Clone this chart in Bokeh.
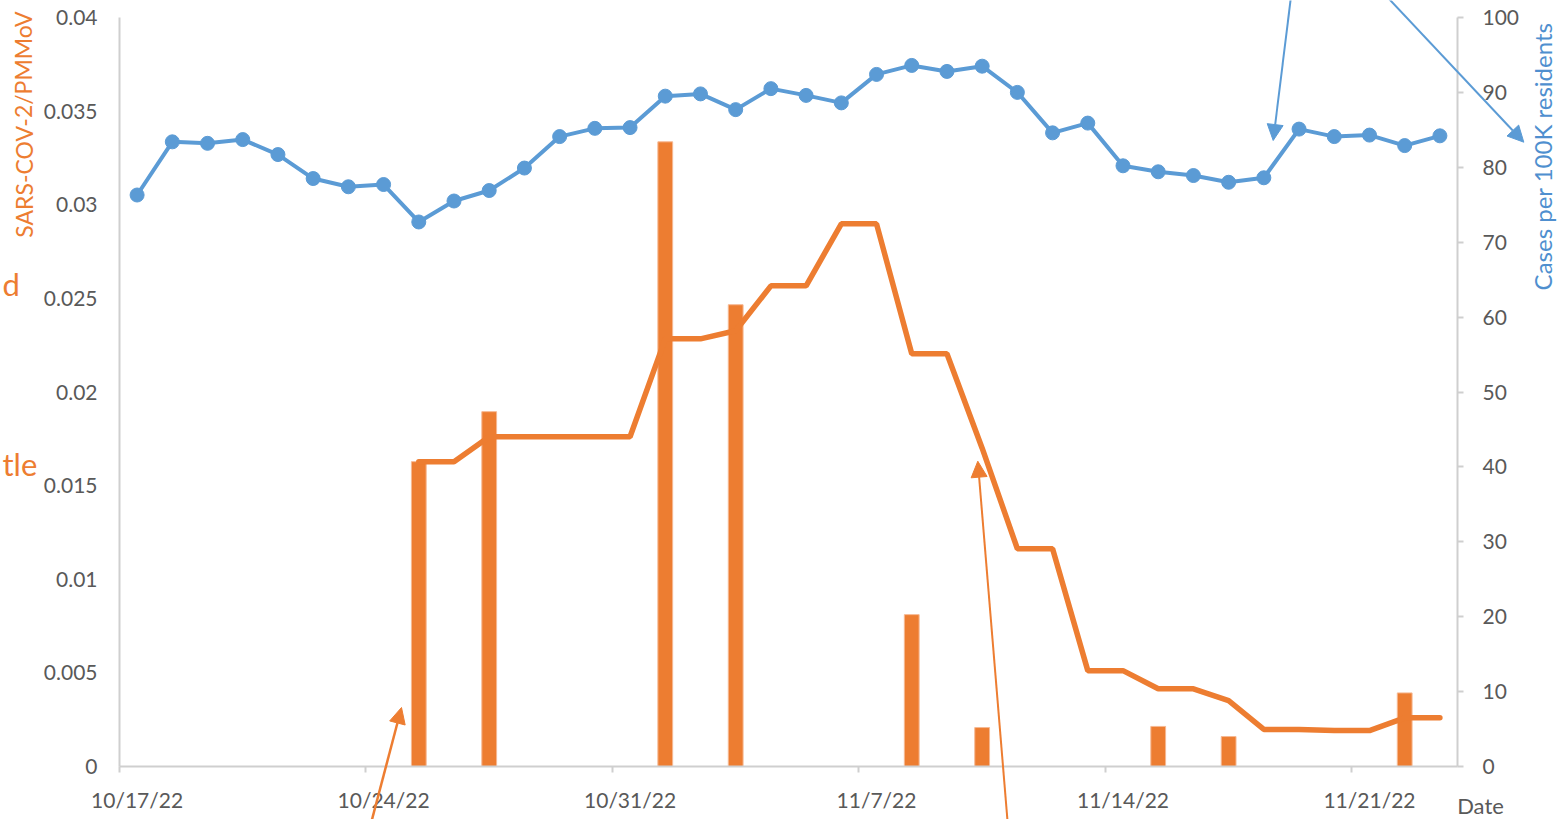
import pandas as pd
from bokeh.plotting import figure
from bokeh.models import (Range1d, LinearAxis, FixedTicker, NumeralTickFormatter,
                          Label, Arrow, NormalHead, ColumnDataSource)
from bokeh.embed import file_html
from bokeh.resources import INLINE

# ---------------- data ----------------
start_date = pd.Timestamp("2022-10-17")
case_dates = pd.date_range("2022-10-17", "2022-11-23", freq="D")
case_rate = [76.3, 83.4, 83.2, 83.7, 81.7, 78.5, 77.4, 77.7, 72.7, 75.5,
             76.9, 79.9, 84.1, 85.2, 85.3, 89.5, 89.8, 87.7, 90.5, 89.6,
             88.6, 92.4, 93.6, 92.8, 93.5, 90.0, 84.6, 85.9, 80.2, 79.4,
             78.9, 78.0, 78.6, 85.1, 84.1, 84.3, 82.9, 84.2]

ratio_dates = pd.date_range("2022-10-25", "2022-11-23", freq="D")
ratio_avg = [0.01628, 0.01628, 0.01761, 0.01761, 0.01761, 0.01761, 0.01761,
             0.02284, 0.02284, 0.02327, 0.02567, 0.02567, 0.02898, 0.02898,
             0.02204, 0.02204, 0.01700, 0.01163, 0.01163, 0.00512, 0.00512,
             0.00415, 0.00415, 0.00352, 0.00198, 0.00198, 0.00192, 0.00192,
             0.00260, 0.00260]

sample_dates = ["2022-10-25", "2022-10-27", "2022-11-01", "2022-11-03",
                "2022-11-08", "2022-11-10", "2022-11-15", "2022-11-17",
                "2022-11-22"]
sample_ratio = [0.01628, 0.01895, 0.03336, 0.02466, 0.00811, 0.00208,
                0.00214, 0.00160, 0.00393]

tick_dates = ["2022-10-17", "2022-10-24", "2022-10-31", "2022-11-07",
              "2022-11-14", "2022-11-21"]
tick_labels = ["10/17/22", "10/24/22", "10/31/22", "11/7/22", "11/14/22", "11/21/22"]

left_ticks = [0, 0.005, 0.01, 0.015, 0.02, 0.025, 0.03, 0.035, 0.04]
right_ticks = [0, 10, 20, 30, 40, 50, 60, 70, 80, 90, 100]


def day_pos(d):
    return (pd.Timestamp(d) - start_date).days + 0.5


ORANGE = "#ED7D31"
BLUE = "#5B9BD5"
GREY_TXT = "#595959"
AXIS_GREY = "#CFCFCF"
FONT = "Lato"

W, H = 1562, 819
# plot area (axes box) in canvas pixels
PL, PR, PT, PB = 119, 1457, 17, 766
N_DAYS = 38
Y_MAX = 0.04
C_MAX = 100

px_per_day = (PR - PL) / N_DAYS
px_per_y = (PB - PT) / Y_MAX
x_lo, x_hi = -PL / px_per_day, (W - PL) / px_per_day
y_lo, y_hi = -(H - PB) / px_per_y, Y_MAX + PT / px_per_y
c_scale = C_MAX / Y_MAX

p = figure(width=W, height=H, output_backend="svg", toolbar_location=None,
           x_range=Range1d(x_lo, x_hi), y_range=Range1d(y_lo, y_hi),
           min_border=0)
p.title.visible = False
p.extra_y_ranges = {"cases": Range1d(y_lo * c_scale, y_hi * c_scale)}
p.outline_line_color = None
p.xgrid.visible = False
p.ygrid.visible = False
p.background_fill_color = "white"
p.border_fill_color = "white"

# ---- x axis: tick marks at week starts ----
xa = p.xaxis[0]
xa.fixed_location = 0
xa.bounds = (0, N_DAYS)
xa.ticker = FixedTicker(ticks=[day_pos(d) - 0.5 for d in tick_dates])
xa.major_label_text_font_size = "1px"
xa.major_label_text_color = None
xa.major_tick_out = 6
xa.major_tick_in = 0
xa.minor_tick_line_color = None
xa.major_tick_line_color = AXIS_GREY
xa.axis_line_color = AXIS_GREY
xa.axis_line_width = 2
xa.major_tick_line_width = 2

# ---- x axis labels (centred on the day) ----
lab_pos = [day_pos(d) for d in tick_dates]
xl = LinearAxis(ticker=FixedTicker(ticks=lab_pos), fixed_location=0,
                major_label_overrides={pos: t for pos, t in zip(lab_pos, tick_labels)},
                axis_line_color=None, major_tick_line_color=None,
                major_tick_out=0, major_tick_in=0,
                minor_tick_line_color=None, major_label_standoff=20,
                major_label_text_font=FONT, major_label_text_font_size="21px",
                major_label_text_color=GREY_TXT)
p.add_layout(xl, "below")

# ---- left axis ----
ya = p.yaxis[0]
ya.fixed_location = 0
ya.bounds = (0, Y_MAX)
ya.ticker = FixedTicker(ticks=left_ticks)
ya.formatter = NumeralTickFormatter(format="0.[000]")
ya.major_tick_line_color = None
ya.minor_tick_line_color = None
ya.major_tick_out = 0
ya.major_tick_in = 0
ya.major_label_standoff = 22
ya.axis_line_color = AXIS_GREY
ya.axis_line_width = 2
ya.major_label_text_font = FONT
ya.major_label_text_font_size = "21px"
ya.major_label_text_color = GREY_TXT

# ---- right axis ----
ra = LinearAxis(y_range_name="cases", fixed_location=N_DAYS, bounds=(0, C_MAX),
                ticker=FixedTicker(ticks=right_ticks),
                axis_line_color=AXIS_GREY, axis_line_width=2,
                major_tick_line_color=AXIS_GREY, major_tick_line_width=2,
                major_tick_out=6, major_tick_in=0, minor_tick_line_color=None,
                major_label_standoff=19, major_label_text_font=FONT,
                major_label_text_font_size="21px", major_label_text_color=GREY_TXT)
p.add_layout(ra, "right")

# ---- bars ----
bar_src = ColumnDataSource(dict(x=[day_pos(d) for d in sample_dates], top=sample_ratio))
p.vbar(x="x", top="top", bottom=0, width=0.42, source=bar_src,
       fill_color=ORANGE, line_color="#F6B892", line_width=1)

# ---- orange line ----
ratio_src = ColumnDataSource(dict(x=[day_pos(d) for d in ratio_dates], y=ratio_avg))
p.line("x", "y", source=ratio_src, line_color=ORANGE, line_width=5.5,
       line_cap="round")

# ---- blue line with markers ----
case_src = ColumnDataSource(dict(x=[day_pos(d) for d in case_dates], y=case_rate))
p.line("x", "y", source=case_src, y_range_name="cases", line_color=BLUE, line_width=4)
p.scatter("x", "y", source=case_src, y_range_name="cases", size=14,
          fill_color=BLUE, line_color=BLUE)


# ---- canvas pixel -> data helpers for annotations ----
def dx(px):
    return (px - PL) / px_per_day


def dy(py):
    return (PB - py) / px_per_y


# ---- titles ----
p.add_layout(Label(x=dx(23), y=dy(124), text="SARS-COV-2/PMMoV", angle=1.5708,
                   text_align="center", text_baseline="middle", text_font=FONT,
                   text_font_size="23px", text_color=ORANGE))
p.add_layout(Label(x=dx(1542), y=dy(156), text="Cases per 100K residents", angle=1.5708,
                   text_align="center", text_baseline="middle", text_font=FONT,
                   text_font_size="24px", text_color="#4F8FCF"))
p.add_layout(Label(x=dx(1480), y=dy(805), text="Date", text_align="center",
                   text_baseline="middle", text_font=FONT, text_font_size="22px",
                   text_color=GREY_TXT))
p.add_layout(Label(x=dx(2), y=dy(283), text="d", text_align="left",
                   text_baseline="middle", text_font=FONT, text_font_size="31px",
                   text_color=ORANGE))
p.add_layout(Label(x=dx(2), y=dy(463), text="tle", text_align="left",
                   text_baseline="middle", text_font=FONT, text_font_size="31px",
                   text_color=ORANGE))


# ---- arrows ----
def arrow(x0, y0, x1, y1, color, w):
    p.add_layout(Arrow(end=NormalHead(size=16, fill_color=color, line_color=color),
                       x_start=dx(x0), y_start=dy(y0), x_end=dx(x1), y_end=dy(y1),
                       line_color=color, line_width=w))


arrow(368.6, 830, 401, 707, ORANGE, 2.5)
arrow(1007.8, 830, 977.3, 460.7, ORANGE, 2)
arrow(1291, -8, 1272.7, 140, BLUE, 2)
arrow(1382.5, -8, 1523.3, 141.7, BLUE, 2)

open("out.html", "w").write(file_html(p, INLINE))
